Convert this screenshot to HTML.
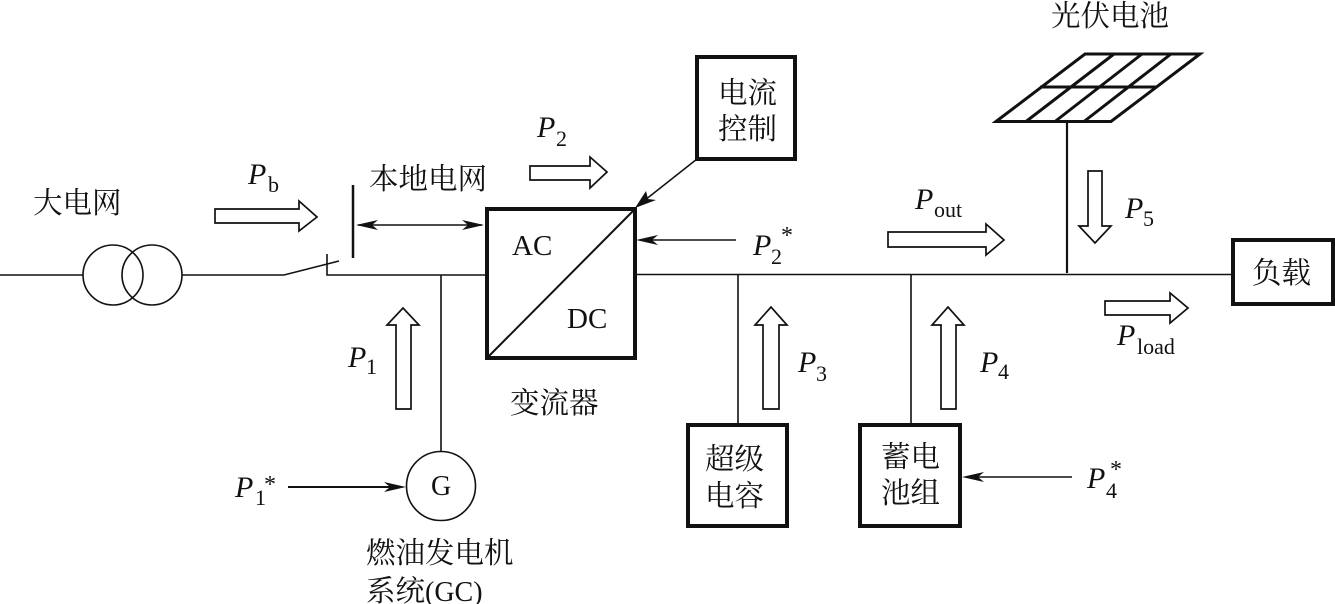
<!DOCTYPE html>
<html><head><meta charset="utf-8"><style>
html,body{margin:0;padding:0;background:#fff}
svg{display:block}
text{font-family:"Liberation Serif","Noto Serif CJK SC",serif;fill:#111}
.c{font-size:29.500px}
.l{font-size:29px}
.p{font-size:30px;font-style:italic}
.s{font-size:22px}
.st{font-size:24px}
.th{fill:none;stroke:#111;stroke-width:1.6}
.bk{fill:none;stroke:#111;stroke-width:4}
.ar{fill:#fff;stroke:#111;stroke-width:1.7;stroke-linejoin:miter}
</style></head><body>
<svg width="1335" height="604" viewBox="0 0 1335 604" xmlns="http://www.w3.org/2000/svg">
<!-- main lines -->
<path class="th" d="M0 275H83M182 275H284L339 261M327 254V275H486M635 274.500H1232"/>
<circle class="th" cx="113" cy="275" r="30"/>
<circle class="th" cx="152" cy="275" r="30"/>
<path d="M353 185V258" stroke="#111" stroke-width="2.500" fill="none"/>
<!-- double arrow -->
<path d="M358 225H482" stroke="#111" stroke-width="1.500"/>
<path d="M356 225L378 220L372 225L378 230ZM484 225L462 220L468 225L462 230Z" fill="#111"/>
<!-- converter -->
<rect class="bk" x="487" y="209" width="148" height="149"/>
<path d="M487 358L635 209" stroke="#111" stroke-width="2" fill="none"/>
<text class="l" x="512" y="255">AC</text>
<text class="l" x="567" y="328">DC</text>
<!-- current control -->
<rect class="bk" x="697" y="57" width="98" height="102"/>
<text class="c" x="718" y="103">电流</text>
<text class="c" x="718" y="139">控制</text>
<path d="M697 159L640 204" stroke="#111" stroke-width="1.500" fill="none"/>
<path d="M635 208L646 191L648 199L656 200Z" fill="#111"/>
<!-- P2* arrow -->
<path d="M640 240H736" stroke="#111" stroke-width="1.500"/>
<path d="M636 240L658 235L652 240L658 245Z" fill="#111"/>
<!-- PV -->
<path d="M996 121.500L1085 54H1200L1111 121.500Z" fill="none" stroke="#111" stroke-width="3"/>
<path d="M1040 87H1157M1026 121.500L1114 54M1055 121.500L1142 54M1084 121.500L1171 54" fill="none" stroke="#111" stroke-width="3"/>
<path d="M1067 122V273" stroke="#111" stroke-width="2.200"/>
<!-- load -->
<rect class="bk" x="1233" y="240" width="100" height="64"/>
<text class="c" x="1252" y="283">负载</text>
<!-- branches -->
<path class="th" d="M441 275V452M738 275V425M911 275V425"/>
<circle class="th" cx="441" cy="486" r="34.500"/>
<text x="431" y="495" font-size="28">G</text>
<path d="M288 487H400" stroke="#111" stroke-width="2"/>
<path d="M406 487L384 482L390 487L384 492Z" fill="#111"/>
<!-- supercap / battery -->
<rect class="bk" x="688" y="425" width="99" height="101"/>
<text class="c" x="705" y="469">超级</text>
<text class="c" x="705" y="506">电容</text>
<rect class="bk" x="860" y="425" width="100" height="101"/>
<text class="c" x="881" y="467">蓄电</text>
<text class="c" x="881" y="503">池组</text>
<path d="M968 477H1072" stroke="#111" stroke-width="1.500"/>
<path d="M962 477L984 472L978 477L984 482Z" fill="#111"/>
<!-- block arrows -->
<path class="ar" d="M215 209H299V201L317 217L299 231V223H215Z"/>
<path class="ar" d="M530 166H590V157L607 172L590 188V180H530Z"/>
<path class="ar" d="M888 232H986V224L1004 240L986 255V247H888Z"/>
<path class="ar" d="M1105 301H1170V293L1188 308L1170 323V315H1105Z"/>
<path class="ar" d="M396 409V325H387L403 308L419 325H411V409Z"/>
<path class="ar" d="M763 409V325H755L771 307L787 325H779V409Z"/>
<path class="ar" d="M941 409V325H932L948 307L964 325H956V409Z"/>
<path class="ar" d="M1088 171H1102V226H1111L1095 243L1079 226H1088Z"/>
<!-- labels -->
<text class="c" x="33" y="213">大电网</text>
<text class="c" x="369" y="189">本地电网</text>
<text class="c" x="510" y="413">变流器</text>
<text class="c" x="1051" y="26">光伏电池</text>
<text class="c" x="366" y="563">燃油发电机</text>
<text class="c" x="366" y="601">系统<tspan font-size="28">(GC)</tspan></text>
<text class="p" x="248" y="184">P</text><text class="s" x="268" y="192">b</text>
<text class="p" x="537" y="137">P</text><text class="s" x="556" y="146">2</text>
<text class="p" x="348" y="367">P</text><text class="s" x="366" y="374">1</text>
<text class="p" x="235" y="497">P</text><text class="s" x="255" y="505">1</text><text class="st" x="264" y="492">*</text>
<text class="p" x="753" y="255">P</text><text class="s" x="771" y="264">2</text><text class="st" x="781" y="243">*</text>
<text class="p" x="915" y="209">P</text><text class="s" x="934" y="217">out</text>
<text class="p" x="1125" y="218">P</text><text class="s" x="1143" y="226">5</text>
<text class="p" x="1117" y="345">P</text><text class="s" x="1137" y="354">load</text>
<text class="p" x="798" y="372">P</text><text class="s" x="816" y="381">3</text>
<text class="p" x="980" y="372">P</text><text class="s" x="998" y="379">4</text>
<text class="p" x="1087" y="488">P</text><text class="s" x="1106" y="498">4</text><text class="st" x="1110" y="477">*</text>
</svg>
</body></html>
